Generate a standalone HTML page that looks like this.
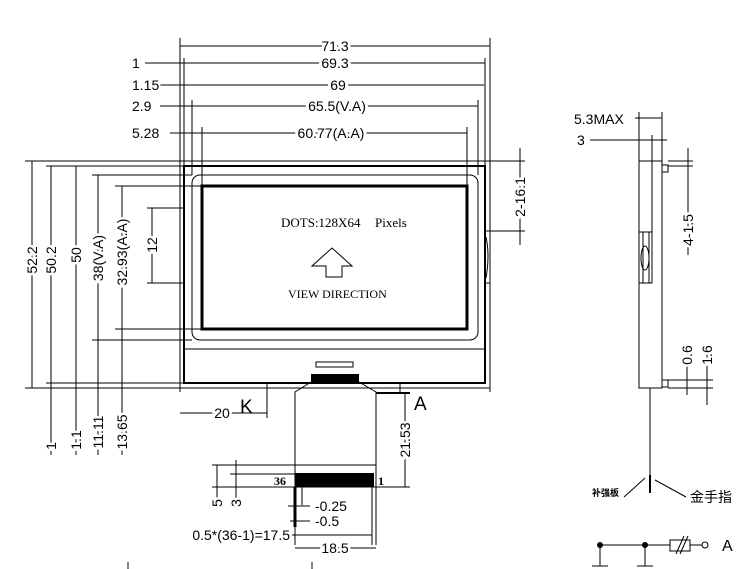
<!DOCTYPE html>
<html><head><meta charset="utf-8"><style>
html,body{margin:0;padding:0;background:#fff;}
svg{display:block}
text{font-family:"Liberation Sans","Noto Sans CJK SC",sans-serif;font-size:14px;fill:#000}
.s{font-family:"Liberation Serif","Noto Serif CJK SC",serif;font-size:12px}
</style></head><body>
<svg width="749" height="569" viewBox="0 0 749 569" xmlns="http://www.w3.org/2000/svg">
<g stroke="#000" stroke-width="1" fill="none">
<!-- top dims -->
<line x1="180" y1="38" x2="180" y2="392"/><line x1="490" y1="38" x2="490" y2="392"/>
<line x1="180" y1="46" x2="490" y2="46"/>
<line x1="184" y1="58" x2="184" y2="166"/><line x1="485" y1="58" x2="485" y2="166"/>
<line x1="145" y1="63" x2="485" y2="63"/>
<line x1="160" y1="85" x2="484" y2="85"/>
<line x1="192" y1="100" x2="192" y2="175"/><line x1="478" y1="100" x2="478" y2="175"/>
<line x1="160" y1="106" x2="478" y2="106"/>
<line x1="202" y1="127" x2="202" y2="186"/><line x1="467" y1="127" x2="467" y2="186"/>
<line x1="170" y1="133" x2="467" y2="133"/>
<!-- frames -->
<rect x="180" y="161" width="310" height="227"/>
<rect x="184" y="166" width="301" height="217" stroke-width="2"/>
<rect x="192" y="175" width="286" height="165" rx="8"/>
<rect x="202" y="186" width="265" height="143" stroke-width="3"/>
<line x1="184" y1="349" x2="485" y2="349"/>
<rect x="316" y="362" width="37" height="5"/>
<line x1="180" y1="208" x2="184" y2="208"/><line x1="180" y1="283" x2="184" y2="283"/>
<line x1="485" y1="231" x2="490" y2="231"/><line x1="485" y1="283" x2="490" y2="283"/>
<path d="M486 237 Q490 255 486 278"/>
<!-- arrow -->
<path d="M332 248 L352 266 L342 266 L342 277 L326 277 L326 266 L312 266 Z" transform="translate(0,0)"/>
<!-- left dims -->
<line x1="25" y1="161" x2="180" y2="161"/><line x1="25" y1="388" x2="180" y2="388"/>
<line x1="46" y1="166" x2="184" y2="166"/><line x1="46" y1="383" x2="184" y2="383"/>
<line x1="70" y1="166" x2="184" y2="166"/>
<line x1="92" y1="175" x2="192" y2="175"/><line x1="92" y1="340" x2="192" y2="340"/>
<line x1="115" y1="186" x2="202" y2="186"/><line x1="115" y1="329" x2="202" y2="329"/>
<line x1="32" y1="161" x2="32" y2="388"/>
<line x1="51" y1="166" x2="51" y2="455"/>
<line x1="76" y1="166" x2="76" y2="455"/>
<line x1="98" y1="175" x2="98" y2="455"/>
<line x1="122" y1="186" x2="122" y2="455"/>
<line x1="147" y1="208" x2="180" y2="208"/><line x1="147" y1="283" x2="180" y2="283"/>
<line x1="152" y1="208" x2="152" y2="283"/>
<!-- right dims -->
<line x1="490" y1="161" x2="525" y2="161"/><line x1="490" y1="231" x2="525" y2="231"/>
<line x1="520" y1="148" x2="520" y2="245"/>
<!-- FPC -->
<path d="M311 382 L295 392 L295 545"/><path d="M359 382 L376 392 L376 545"/>
<line x1="267" y1="383" x2="267" y2="418"/><line x1="180" y1="413" x2="267" y2="413"/>
<line x1="400" y1="383" x2="400" y2="392"/>
<line x1="376" y1="393" x2="410" y2="393" stroke-width="2"/>
<line x1="405" y1="393" x2="405" y2="487"/>
<line x1="212" y1="465" x2="376" y2="465"/>
<line x1="230" y1="474" x2="295" y2="474"/>
<line x1="212" y1="487" x2="410" y2="487"/>
<line x1="217" y1="465" x2="217" y2="498"/>
<line x1="236" y1="460" x2="236" y2="500"/>
<line x1="295" y1="487" x2="295" y2="527" stroke-width="3"/>
<line x1="302" y1="487" x2="302" y2="505"/>
<line x1="372" y1="487" x2="372" y2="545"/>
<line x1="288" y1="506" x2="310" y2="506"/>
<line x1="290" y1="521" x2="310" y2="521"/>
<line x1="292" y1="535" x2="372" y2="535"/>
<line x1="295" y1="548" x2="376" y2="548"/>
<line x1="128" y1="562" x2="128" y2="569"/><line x1="312" y1="562" x2="312" y2="569"/>
<!-- side view -->
<line x1="639" y1="112" x2="639" y2="161"/><line x1="662" y1="112" x2="662" y2="161"/>
<line x1="635" y1="118" x2="662" y2="118"/>
<line x1="590" y1="140" x2="667" y2="140"/>
<line x1="652" y1="135" x2="652" y2="232"/>
<rect x="639" y="161" width="23" height="227"/>
<rect x="639" y="232" width="13" height="51"/>
<line x1="643" y1="232" x2="643" y2="283"/><line x1="649" y1="232" x2="649" y2="283"/>
<ellipse cx="645" cy="258" rx="4" ry="12"/>
<rect x="662" y="165" width="6" height="7"/><rect x="662" y="380" width="6" height="7"/>
<line x1="668" y1="161" x2="693" y2="161"/><line x1="668" y1="166" x2="693" y2="166"/>
<line x1="688" y1="148" x2="688" y2="255"/>
<line x1="668" y1="380" x2="713" y2="380"/><line x1="668" y1="388" x2="713" y2="388"/>
<line x1="687" y1="345" x2="687" y2="395"/><line x1="707" y1="345" x2="707" y2="405"/>
<line x1="650" y1="388" x2="650" y2="490"/>
<line x1="650" y1="475" x2="650" y2="493" stroke-width="2"/>
<line x1="645" y1="478" x2="624" y2="497"/><line x1="655" y1="480" x2="686" y2="497"/>
<!-- circuit -->
<line x1="600" y1="545" x2="670" y2="545"/>
<rect x="670" y="540" width="20" height="11"/>
<line x1="676" y1="554" x2="684" y2="536"/><line x1="680" y1="554" x2="688" y2="536"/>
<line x1="690" y1="545" x2="702" y2="545"/>
<circle cx="705" cy="545" r="3"/>
<line x1="600" y1="545" x2="600" y2="566"/><line x1="645" y1="545" x2="645" y2="566"/>
<line x1="592" y1="566" x2="608" y2="566"/><line x1="637" y1="566" x2="653" y2="566"/>
</g>
<circle cx="600" cy="545" r="3"/><circle cx="645" cy="545" r="3"/>
<rect x="311" y="374" width="48" height="8"/>
<rect x="295" y="473" width="79" height="14"/>
<!-- texts -->
<g>
<text x="335" y="51" text-anchor="middle" fill="#000" style="paint-order:stroke;stroke:#fff;stroke-width:6px">71.3</text>
<text x="335" y="68" text-anchor="middle" style="paint-order:stroke;stroke:#fff;stroke-width:6px">69.3</text>
<text x="338" y="90" text-anchor="middle" style="paint-order:stroke;stroke:#fff;stroke-width:6px">69</text>
<text x="337" y="111" text-anchor="middle" style="paint-order:stroke;stroke:#fff;stroke-width:6px">65.5(V.A)</text>
<text x="331" y="138" text-anchor="middle" style="paint-order:stroke;stroke:#fff;stroke-width:6px">60.77(A.A)</text>
<text x="132" y="68" style="paint-order:stroke;stroke:#fff;stroke-width:4px">1</text>
<text x="132" y="90" style="paint-order:stroke;stroke:#fff;stroke-width:4px">1.15</text>
<text x="132" y="111" style="paint-order:stroke;stroke:#fff;stroke-width:4px">2.9</text>
<text x="132" y="138" style="paint-order:stroke;stroke:#fff;stroke-width:4px">5.28</text>
<text x="281" y="227" class="s" style="font-size:13px">DOTS:128X64</text>
<text x="375" y="227" class="s" style="font-size:13px">Pixels</text>
<text x="288" y="298" class="s">VIEW DIRECTION</text>
<g style="paint-order:stroke;stroke:#fff;stroke-width:5px">
<text transform="translate(37,260) rotate(-90)" text-anchor="middle">52.2</text>
<text transform="translate(56,260) rotate(-90)" text-anchor="middle">50.2</text>
<text transform="translate(81,255) rotate(-90)" text-anchor="middle">50</text>
<text transform="translate(103,258) rotate(-90)" text-anchor="middle">38(V.A)</text>
<text transform="translate(127,252) rotate(-90)" text-anchor="middle">32.93(A.A)</text>
<text transform="translate(157,245) rotate(-90)" text-anchor="middle">12</text>
<text transform="translate(525,197) rotate(-90)" text-anchor="middle">2-16.1</text>
<text transform="translate(56,446) rotate(-90)" text-anchor="middle">1</text>
<text transform="translate(81,440) rotate(-90)" text-anchor="middle">1.1</text>
<text transform="translate(103,432) rotate(-90)" text-anchor="middle">11.11</text>
<text transform="translate(127,432) rotate(-90)" text-anchor="middle">13.65</text>
<text transform="translate(410,440) rotate(-90)" text-anchor="middle">21.53</text>
<text transform="translate(222,503) rotate(-90)" text-anchor="middle">5</text>
<text transform="translate(241,503) rotate(-90)" text-anchor="middle">3</text>
<text x="222" y="418" text-anchor="middle">20</text>
<text x="315" y="511">-0.25</text>
<text x="315" y="526">-0.5</text>
<text x="290" y="540" text-anchor="end">0.5*(36-1)=17.5</text>
<text x="335" y="553" text-anchor="middle">18.5</text>
<text transform="translate(693,230) rotate(-90)" text-anchor="middle">4-1.5</text>
<text transform="translate(692,355) rotate(-90)" text-anchor="middle">0.6</text>
<text transform="translate(712,355) rotate(-90)" text-anchor="middle">1.6</text>
</g>
<text x="240" y="413" style="font-size:19px">K</text>
<text x="414" y="410" style="font-size:19px">A</text>
<text x="274" y="485" class="s" style="font-weight:bold">36</text>
<text x="378" y="485" class="s" style="font-weight:bold">1</text>
<text x="574" y="124" style="paint-order:stroke;stroke:#fff;stroke-width:4px">5.3MAX</text>
<text x="577" y="145">3</text>
<text x="592" y="496" style="font-size:9px;font-weight:bold">补强板</text>
<text x="690" y="502" style="font-size:14px">金手指</text>
<text x="722" y="551" style="font-size:16px">A</text>
</g>
</svg>
</body></html>
